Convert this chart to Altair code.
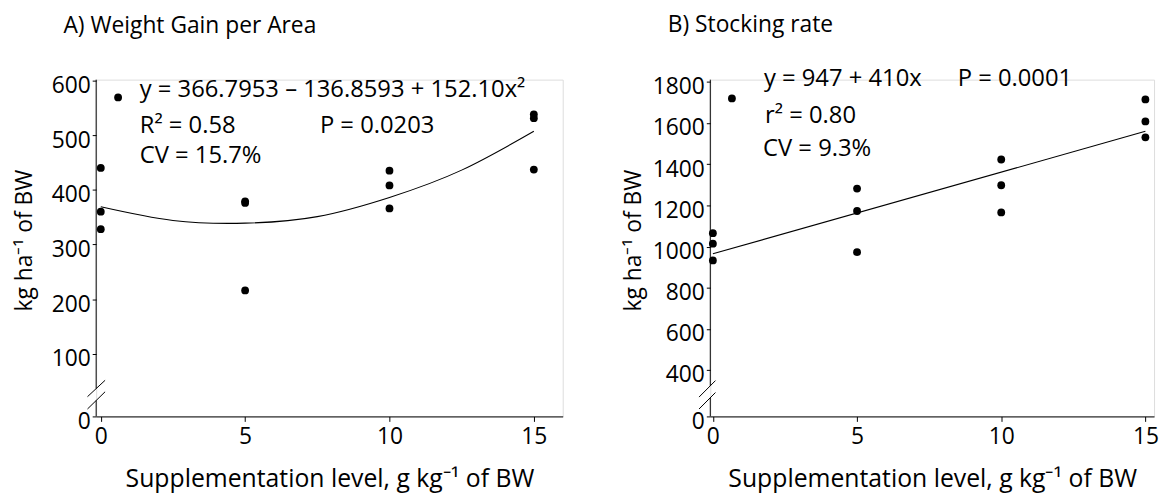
import altair as alt
import pandas as pd

FONT = "Open Sans"
FS = 23
INK = "#000000"

# ---------------- Panel A: Weight gain per area ----------------
a_x = [0, 0, 0, 5, 5, 5, 10, 10, 10, 15, 15, 15]
a_y = [440, 360, 328, 379, 376, 216, 435, 408, 366, 538, 531, 437]
# fitted curve
a_curve_x = [0, 2.5, 5, 7.5, 10, 12.5, 15]
a_curve_y = [369, 344, 339, 351, 386, 436, 507]
a_text = ["y = 366.7953 \u2013 136.8593 + 152.10x\u00b2", "R\u00b2 = 0.58", "P = 0.0203", "CV = 15.7%"]
a_text_x = [1.35, 1.35, 7.59, 1.35]
a_text_y = [582, 517, 517, 462]
a_marker_x = [0.6]
a_marker_y = [569]
a_ticks = [-14.5, 100, 200, 300, 400, 500, 600]
a_xdom = [-0.16, 16.0]
a_ydom = [-14.5, 601.5]
# axis-break decoration (two slashes) and the broken y-axis line
a_brk_x = [-0.46, -0.46]
a_brk_x2 = [0.15, 0.15]
a_brk_y = [21.6, -0.9]
a_brk_y2 = [51.6, 30.6]
a_seg_y = [601.5, 14.7]
a_seg_y2 = [36.4, -14.5]

# ---------------- Panel B: Stocking rate ----------------
b_x = [0, 0, 0, 5, 5, 5, 10, 10, 10, 15, 15, 15]
b_y = [1065, 1014, 933, 1282, 1173, 973, 1423, 1298, 1166, 1715, 1608, 1531]
b_line_x = [0, 15]
b_line_y = [965, 1560]
b_text = ["y = 947 + 410x", "P = 0.0001", "r\u00b2 = 0.80", "CV = 9.3%"]
b_text_x = [1.77, 8.49, 1.81, 1.74]
b_text_y = [1816, 1816, 1632, 1474]
b_marker_x = [0.66]
b_marker_y = [1720]
b_ticks = [175, 400, 600, 800, 1000, 1200, 1400, 1600, 1800]
b_xdom = [-0.09, 15.3]
b_ydom = [175, 1811]
b_brk_x = [-0.48, -0.48]
b_brk_x2 = [0.09, 0.09]
b_brk_y = [269, 211]
b_brk_y2 = [349, 291]
b_seg_y = [1811, 265]
b_seg_y2 = [323, 175]

x_ticks = [0, 5, 10, 15]
X_TITLE = "Supplementation level, g kg\u207b\u00b9 of BW"
Y_TITLE = "kg ha\u207b\u00b9 of BW"


def panel(title, dx, toff, px, py, cx, cy, interp, tx, ty, texts, mx, my,
          ticks, xdom, ydom, bx, bx2, by, by2, sy, sy2, width, ytitle_x):
    xs = alt.Scale(domain=xdom, nice=False, zero=False)
    ys = alt.Scale(domain=ydom, nice=False, zero=False)
    xax = alt.Axis(values=x_ticks, title=X_TITLE, grid=False, tickSize=5,
                   tickColor=INK, domainColor=INK, labelColor=INK, titleColor=INK,
                   labelFont=FONT, labelFontSize=FS, titleFont=FONT, titleFontSize=25,
                   titleFontWeight="normal", labelPadding=4, titleBaseline="alphabetic",
                   titleY=71)
    yax = alt.Axis(values=ticks, title=Y_TITLE, grid=False, domain=False, tickSize=4,
                   tickColor=INK, labelColor=INK, titleColor=INK, labelFont=FONT,
                   labelFontSize=FS, titleFont=FONT, titleFontSize=FS,
                   titleFontWeight="normal", labelPadding=2, labelOffset=5, format="d",
                   labelExpr="datum.value == %s ? '0' : datum.label" % ticks[0],
                   titleAngle=270, titleBaseline="middle", titleAlign="center",
                   titleX=ytitle_x, titleY=162)

    pts = pd.DataFrame({"x": px, "y": py})
    base = alt.Chart(pts).mark_circle(size=62, color=INK, opacity=1).encode(
        x=alt.X("x:Q", scale=xs, axis=xax),
        y=alt.Y("y:Q", scale=ys, axis=yax),
    )
    fit = alt.Chart(pd.DataFrame({"x": cx, "y": cy})).mark_line(
        color=INK, strokeWidth=1.1, interpolate=interp).encode(
        x=alt.X("x:Q", scale=xs), y=alt.Y("y:Q", scale=ys))
    marker = alt.Chart(pd.DataFrame({"x": mx, "y": my})).mark_circle(
        size=62, color=INK, opacity=1).encode(
        x=alt.X("x:Q", scale=xs), y=alt.Y("y:Q", scale=ys))
    txt = alt.Chart(pd.DataFrame({"x": tx, "y": ty, "t": texts})).mark_text(
        align="left", baseline="middle", font=FONT, fontSize=24, color=INK).encode(
        x=alt.X("x:Q", scale=xs), y=alt.Y("y:Q", scale=ys), text="t:N")
    brk = alt.Chart(pd.DataFrame({"x": bx, "x2": bx2, "y": by, "y2": by2})).mark_rule(
        color=INK, strokeWidth=1).encode(
        x=alt.X("x:Q", scale=xs), x2="x2:Q", y=alt.Y("y:Q", scale=ys), y2="y2:Q")
    seg = alt.Chart(pd.DataFrame({"x": [xdom[0]] * 2, "y": sy, "y2": sy2})).mark_rule(
        color=INK, strokeWidth=1).encode(
        x=alt.X("x:Q", scale=xs), y=alt.Y("y:Q", scale=ys), y2="y2:Q")
    return alt.layer(base, fit, marker, txt, brk, seg).properties(
        width=width, height=340,
        title=alt.TitleParams(text=title, anchor="start", dx=dx, offset=toff,
                              font=FONT, fontSize=23, fontWeight="normal",
                              color=INK, baseline="alphabetic", frame="group"),
    )


left = panel("A) Weight Gain per Area", -33, 19, a_x, a_y, a_curve_x, a_curve_y, "natural",
             a_text_x, a_text_y, a_text, a_marker_x, a_marker_y, a_ticks, a_xdom, a_ydom,
             a_brk_x, a_brk_x2, a_brk_y, a_brk_y2, a_seg_y, a_seg_y2, 471, -72)
right = panel("B) Stocking rate", -43, 12, b_x, b_y, b_line_x, b_line_y, "linear",
              b_text_x, b_text_y, b_text, b_marker_x, b_marker_y, b_ticks, b_xdom, b_ydom,
              b_brk_x, b_brk_x2, b_brk_y, b_brk_y2, b_seg_y, b_seg_y2, 448, -77)

chart = alt.hconcat(left, right, spacing=149, bounds="flush").properties(
    padding={"left": 5, "top": 3, "right": 0, "bottom": 0}
).configure_view(stroke=None).configure(background="white")

chart.save("out.html", embed_options={"renderer": "svg", "actions": False})
